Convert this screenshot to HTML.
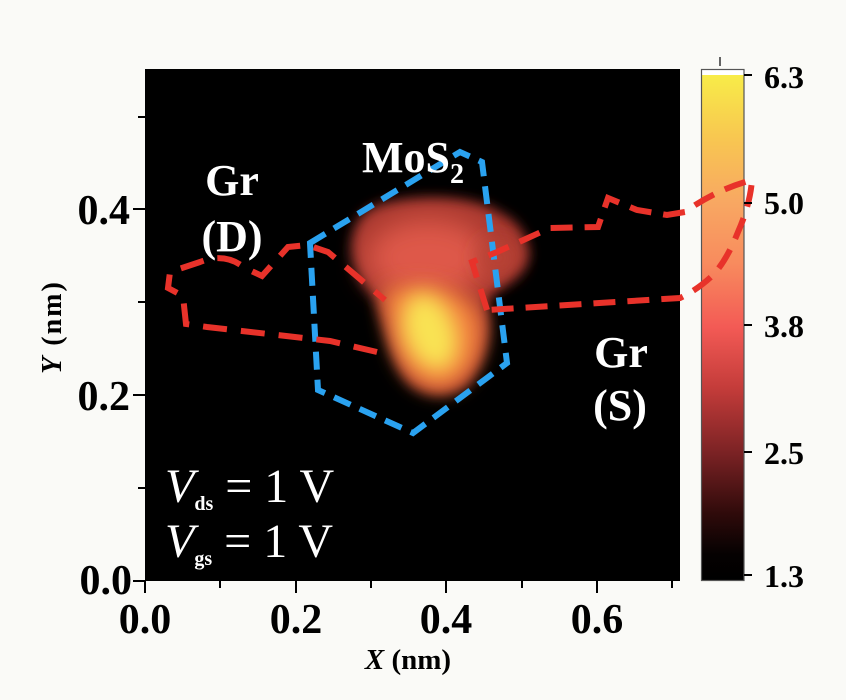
<!DOCTYPE html>
<html><head><meta charset="utf-8"><style>
html,body{margin:0;padding:0;background:#fafaf7;}
svg{display:block;}
text{font-family:"Liberation Serif",serif;}
</style></head><body>
<svg width="846" height="700" viewBox="0 0 846 700" xmlns="http://www.w3.org/2000/svg">
<defs>
<filter id="b6" x="-50%" y="-50%" width="200%" height="200%"><feGaussianBlur stdDeviation="6"/></filter>
<filter id="b10" x="-50%" y="-50%" width="200%" height="200%"><feGaussianBlur stdDeviation="10"/></filter>
<filter id="b14" x="-50%" y="-50%" width="200%" height="200%"><feGaussianBlur stdDeviation="14"/></filter>
<linearGradient id="cb" x1="0" y1="0" x2="0" y2="1">
<stop offset="0" stop-color="#f8ec48"/>
<stop offset="0.12" stop-color="#f8c850"/>
<stop offset="0.25" stop-color="#f8a862"/>
<stop offset="0.37" stop-color="#f88c5e"/>
<stop offset="0.5" stop-color="#f35a55"/>
<stop offset="0.62" stop-color="#c43c3a"/>
<stop offset="0.75" stop-color="#7a2224"/>
<stop offset="0.87" stop-color="#2e0a0a"/>
<stop offset="0.95" stop-color="#050101"/>
<stop offset="1" stop-color="#000"/>
</linearGradient>
</defs>
<rect width="846" height="700" fill="#fafaf7"/>
<rect x="145" y="69" width="535" height="512" fill="#000"/>

<!-- colorbar -->
<rect x="701" y="69" width="43" height="6" fill="#fff"/>
<rect x="701" y="75" width="43" height="505" fill="url(#cb)"/>
<rect x="701.5" y="69.5" width="42.5" height="511" fill="none" stroke="#555" stroke-width="1.2"/>
<line x1="720" y1="57" x2="720" y2="66" stroke="#333" stroke-width="1.5"/>

<!-- blob -->
<g>
<path d="M385,203 C430,193 480,198 500,213 C525,223 537,255 522,270 C510,285 495,290 487,300 C492,330 487,360 467,385 C450,397 430,397 413,386 C393,370 385,330 375,297 C358,282 348,255 353,235 C358,215 368,208 385,203 Z" fill="#a8372f" filter="url(#b6)"/>
<ellipse cx="428" cy="258" rx="62" ry="40" fill="#de5848" filter="url(#b14)"/>
<ellipse cx="498" cy="258" rx="20" ry="18" fill="#b84236" filter="url(#b10)"/>
<path d="M386,290 C410,278 472,283 482,320 C487,350 472,382 445,390 C420,392 400,372 392,340 C388,320 380,300 386,290 Z" fill="#f2803e" filter="url(#b10)"/>
<ellipse cx="430" cy="332" rx="26" ry="40" transform="rotate(-20 430 332)" fill="#f9e252" filter="url(#b10)"/>
</g>

<!-- blue MoS2 outline -->
<path d="M310,243 L460,152 L482,162 L507,363 L413,433 L318,390 Z" fill="none" stroke="#2aa2f0" stroke-width="6" stroke-dasharray="18 10"/>

<!-- red Gr(D) -->
<path d="M377,352 L330,341 L207,327 L186,324 L183,296 L168,288 L170,272 L200,262 Q225,252 245,268 L262,276 L288,247 L307,245 L328,252 L385,300" fill="none" stroke="#e8322a" stroke-width="6" stroke-dasharray="24 14"/>
<!-- red Gr(S) -->
<path d="M487,310 L472,262 L497,252 L550,228 L598,227 L608,198 L637,210 L667,215 L685,212 Q715,190 752,180 Q750,205 738,232 Q726,262 712,276 Q697,290 680,298 L487,310" fill="none" stroke="#e8322a" stroke-width="6" stroke-dasharray="22 12"/>

<!-- labels inside -->
<g fill="#fff" font-weight="bold" font-size="44">
<text x="232" y="195" text-anchor="middle">Gr</text>
<text x="232" y="251" text-anchor="middle">(D)</text>
<text x="621" y="367" text-anchor="middle">Gr</text>
<text x="620" y="420" text-anchor="middle">(S)</text>
<text x="362" y="172">MoS<tspan font-size="28" dy="11">2</tspan></text>
</g>
<g fill="#fff" font-size="48">
<text x="165" y="502"><tspan font-style="italic">V</tspan><tspan font-size="20" font-weight="bold" dy="8">ds</tspan><tspan dy="-8"> = 1 V</tspan></text>
<text x="165" y="557"><tspan font-style="italic">V</tspan><tspan font-size="20" font-weight="bold" dy="8">gs</tspan><tspan dy="-8"> = 1 V</tspan></text>
</g>

<!-- axis ticks -->
<g stroke="#000" stroke-width="2">
<line x1="145" y1="581" x2="145" y2="593"/>
<line x1="220" y1="581" x2="220" y2="588"/>
<line x1="296" y1="581" x2="296" y2="593"/>
<line x1="371" y1="581" x2="371" y2="588"/>
<line x1="446" y1="581" x2="446" y2="593"/>
<line x1="522" y1="581" x2="522" y2="588"/>
<line x1="597" y1="581" x2="597" y2="593"/>
<line x1="672" y1="581" x2="672" y2="588"/>
<line x1="133" y1="581" x2="145" y2="581"/>
<line x1="138" y1="488" x2="145" y2="488"/>
<line x1="133" y1="395" x2="145" y2="395"/>
<line x1="138" y1="302" x2="145" y2="302"/>
<line x1="133" y1="209" x2="145" y2="209"/>
<line x1="138" y1="117" x2="145" y2="117"/>
</g>
<g fill="#000" font-weight="bold" font-size="42">
<text x="130" y="224" text-anchor="end">0.4</text>
<text x="130" y="410" text-anchor="end">0.2</text>
<text x="132" y="594" text-anchor="end">0.0</text>
<text x="145" y="633" text-anchor="middle">0.0</text>
<text x="296" y="633" text-anchor="middle">0.2</text>
<text x="446" y="633" text-anchor="middle">0.4</text>
<text x="597" y="633" text-anchor="middle">0.6</text>
</g>
<text x="408" y="669" text-anchor="middle" font-weight="bold" font-size="29" fill="#000"><tspan font-style="italic">X</tspan> (nm)</text>
<text transform="translate(61 327) rotate(-90)" text-anchor="middle" font-weight="bold" font-size="28" fill="#000" letter-spacing="2"><tspan font-style="italic">Y</tspan> (nm)</text>

<g stroke="#000" stroke-width="2">
<line x1="744" y1="75" x2="752" y2="75"/>
<line x1="744" y1="203" x2="752" y2="203"/>
<line x1="744" y1="325" x2="752" y2="325"/>
<line x1="744" y1="452" x2="752" y2="452"/>
<line x1="744" y1="575" x2="752" y2="575"/>
</g>
<g fill="#000" font-weight="bold" font-size="32">
<text x="764" y="88">6.3</text>
<text x="764" y="214">5.0</text>
<text x="764" y="337">3.8</text>
<text x="764" y="464">2.5</text>
<text x="764" y="587">1.3</text>
</g>
</svg>
</body></html>
